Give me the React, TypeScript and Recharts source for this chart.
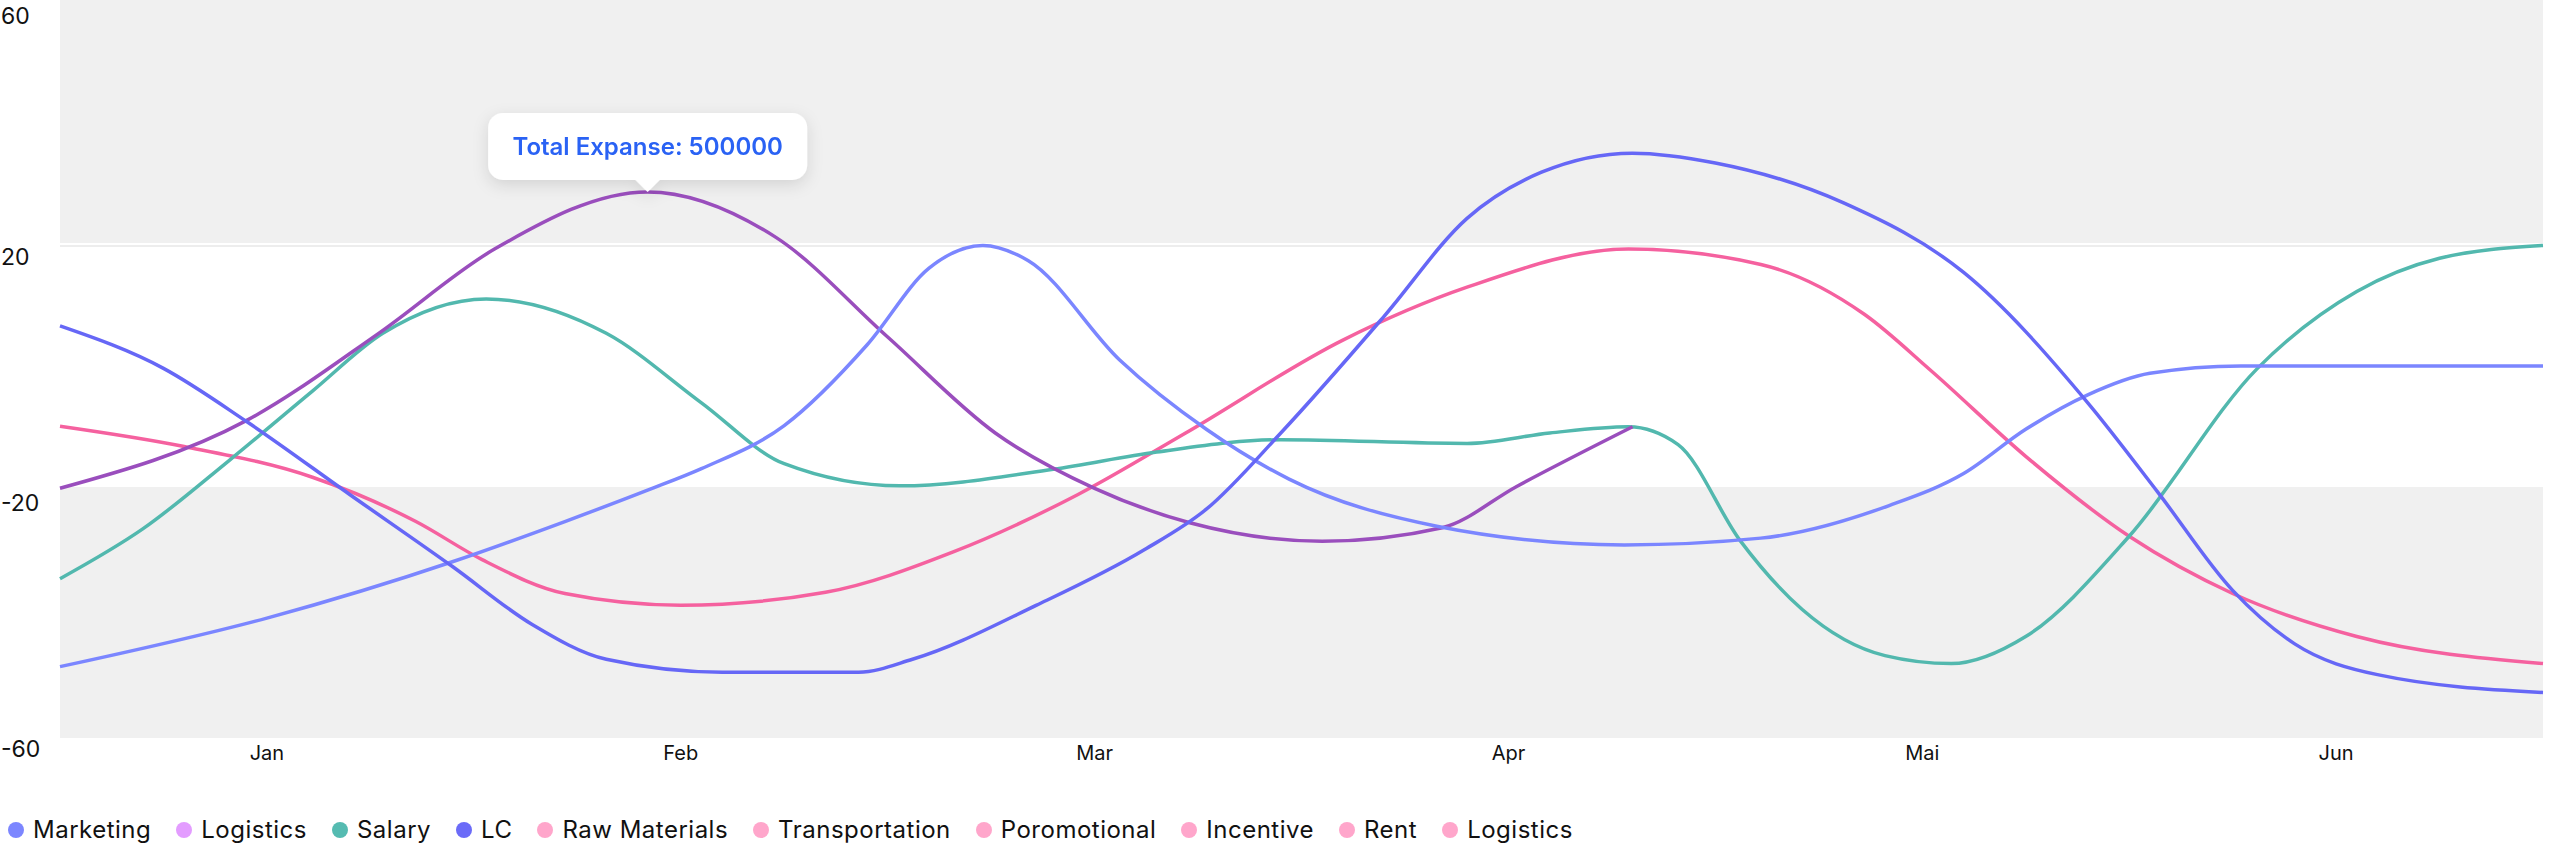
import {
  LineChart,
  Line,
  XAxis,
  YAxis,
  ReferenceArea,
  ReferenceLine,
  ReferenceDot,
} from "recharts";

// month labels sit in the middle of each month slot on a 0..6 scale
const months = ["Jan", "Feb", "Mar", "Apr", "Mai", "Jun"];
const monthTicks = [0.5, 1.5, 2.5, 3.5, 4.5, 5.5];
const yTicks = [60, 20, -20, -60];

// [position on the month scale, value]
const marketing = [
  [0, -48.4], [0.5, -40.5], [0.95, -31.3], [1.22, -24.8], [1.42, -19.7], [1.55, -16.2],
  [1.75, -9.2], [1.95, 3.9], [2.1, 16.4], [2.23, 20.1], [2.34, 17.6], [2.56, 1.5],
  [2.77, -9.8], [2.97, -17.9], [3.33, -25.6], [3.78, -28.6], [4.11, -27.5], [4.42, -22.2],
  [4.6, -17], [4.75, -9.8], [4.9, -4.2], [5.05, -0.7], [5.27, 0.5], [6, 0.5],
];
const logistics = [
  [0, -19.4], [0.45, -8.4], [0.77, 5.8], [1.05, 19.5], [1.42, 28.8], [1.73, 21.4],
  [2.0, 5.2], [2.26, -10.4], [2.5, -19.4], [2.73, -25], [3.05, -28], [3.34, -25.8],
  [3.52, -19.1], [3.8, -9.4],
];
const salary = [
  [0, -34.1], [0.2, -26], [0.41, -14.8], [0.61, -3.6], [0.78, 5.8], [1.03, 11.4],
  [1.32, 5.8], [1.55, -5.5], [1.75, -15.4], [2.03, -19], [2.4, -16.3], [2.65, -13.5],
  [2.95, -11.5], [3.4, -12.1], [3.6, -10.4], [3.79, -9.4], [3.91, -12.3], [4.06, -27.9],
  [4.21, -39.1], [4.41, -46.6], [4.57, -47.9], [4.75, -43.5], [5.0, -27.2], [5.31, 0.1],
  [5.55, 12.6], [5.75, 18], [6, 20.1],
];
const lc = [
  [0, 7], [0.25, 0.1], [0.45, -8.5], [0.7, -20.4], [0.95, -32.2], [1.14, -41.5],
  [1.32, -47.2], [1.6, -49.3], [1.93, -49.3], [2.06, -47.2], [2.36, -38.4], [2.62, -29.4],
  [2.77, -22.8], [2.95, -10.4], [3.2, 8.6], [3.4, 24.5], [3.58, 32], [3.8, 35.1],
  [4.0, 33.5], [4.31, 27], [4.6, 15.7], [4.9, -5.5], [5.07, -20.1], [5.25, -36],
  [5.4, -44.7], [5.6, -49.7], [6, -52.6],
];
const rawMaterials = [
  [0, -9.3], [0.3, -12.6], [0.61, -17.6], [0.86, -24.8], [1.02, -31], [1.22, -36.5],
  [1.5, -38.4], [1.85, -36.3], [2.16, -29.7], [2.46, -20.4], [2.72, -10.4], [3.1, 4.7],
  [3.4, 13.3], [3.79, 19.5], [4.11, 17], [4.36, 8.9], [4.52, -0.2], [4.75, -14.2],
  [5.0, -27.2], [5.25, -36.5], [5.55, -43.5], [6, -47.9],
];

const seriesLines = [
  { name: "Raw Materials", color: "#F5619F", points: rawMaterials },
  { name: "Salary", color: "#52B8AE", points: salary },
  { name: "Logistics", color: "#9A4EBD", points: logistics },
  { name: "Marketing", color: "#7B86FF", points: marketing },
  { name: "LC", color: "#6667F6", points: lc },
];

const legendNames = [
  "Marketing", "Logistics", "Salary", "LC", "Raw Materials",
  "Transportation", "Poromotional", "Incentive", "Rent", "Logistics",
];
const legendColors = [
  "#7C86FF", "#E39CFF", "#55BBB1", "#6B6BF8", "#FFA6CB",
  "#FFA6CB", "#FFA6CB", "#FFA6CB", "#FFA6CB", "#FFA6CB",
];

const tooltipX = 1.42;
const tooltipY = 28.8;
const tooltipText = "Total Expanse: 500000";

const toRows = (pts: number[][]) => pts.map(([x, y]) => ({ x, y }));

function Callout({ cx, cy }: { cx?: number; cy?: number }) {
  if (cx == null || cy == null) return null;
  const w = 319;
  const h = 67;
  const bottom = cy - 12;
  return (
    <g filter="url(#calloutShadow)">
      <rect x={cx - w / 2} y={bottom - h} width={w} height={h} rx={15} fill="#fff" />
      <polygon points={`${cx - 13},${bottom - 1} ${cx + 13},${bottom - 1} ${cx},${cy}`} fill="#fff" />
      <text
        x={cx}
        y={bottom - h / 2}
        dy="0.35em"
        textAnchor="middle"
        fontFamily="Inter"
        fontWeight={600}
        fontSize={24}
        fill="#2962F4"
      >
        {tooltipText}
      </text>
    </g>
  );
}

export default function App() {
  return (
    <div style={{ position: "relative", width: 2552, height: 866, fontFamily: "Inter" }}>
      <style>{"body{margin:0}"}</style>
      <LineChart width={2552} height={790} margin={{ top: 0, right: 9, bottom: 0, left: 0 }}>
        <defs>
          <filter id="calloutShadow" x="-20%" y="-40%" width="140%" height="200%">
            <feDropShadow dx="0" dy="5" stdDeviation="8" floodColor="#000" floodOpacity="0.12" />
          </filter>
        </defs>
        <XAxis
          dataKey="x"
          type="number"
          domain={[0, 6]}
          ticks={monthTicks}
          interval={0}
          tickFormatter={(v: number) => months[Math.floor(v)]}
          axisLine={false}
          tickLine={false}
          height={52}
          tick={{ fill: "#111", fontSize: 20, fontFamily: "Inter" }}
        />
        <YAxis
          type="number"
          domain={[-60, 60]}
          ticks={yTicks}
          interval={0}
          width={60}
          axisLine={false}
          tickLine={false}
          tick={(p: any) => (
            <text
              x={1}
              y={Math.max(p.y + 11, 16)}
              dy="0.35em"
              textAnchor="start"
              fontSize={23}
              fontFamily="Inter"
              fill="#111"
            >
              {p.payload.value}
            </text>
          )}
        />
        <ReferenceArea y1={20.5} y2={60} fill="#F0F0F0" fillOpacity={1} stroke="none" />
        <ReferenceArea y1={-60} y2={-19.2} fill="#F0F0F0" fillOpacity={1} stroke="none" />
        <ReferenceLine y={20} stroke="#EDEDED" strokeWidth={2} />
        {seriesLines.map((s) => (
          <Line
            key={s.name}
            data={toRows(s.points)}
            dataKey="y"
            name={s.name}
            type="monotone"
            stroke={s.color}
            strokeWidth={3.5}
            dot={false}
            activeDot={false}
            isAnimationActive={false}
          />
        ))}
        <ReferenceDot x={tooltipX} y={tooltipY} r={0} shape={(p: any) => <Callout cx={p.cx} cy={p.cy} />} />
      </LineChart>
      <div
        style={{
          position: "absolute",
          left: 8,
          top: 815,
          display: "flex",
          alignItems: "center",
          fontSize: 24,
          letterSpacing: 0.5,
          color: "#111",
          whiteSpace: "nowrap",
        }}
      >
        {legendNames.map((n, i) => (
          <div key={i} style={{ display: "flex", alignItems: "center", marginRight: 25 }}>
            <span
              style={{
                width: 16,
                height: 16,
                borderRadius: 8,
                background: legendColors[i],
                marginRight: 9,
                display: "inline-block",
              }}
            />
            <span>{n}</span>
          </div>
        ))}
      </div>
    </div>
  );
}
